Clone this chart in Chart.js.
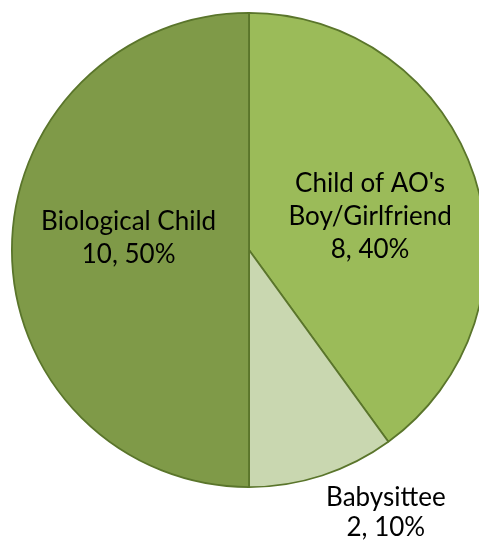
<!DOCTYPE html>
<html>
<head>
<meta charset="utf-8">
<script src="https://cdn.jsdelivr.net/npm/chart.js@4.4.0/dist/chart.umd.min.js"></script>
<style>
  html, body { margin: 0; padding: 0; background: #fff; overflow: hidden; }
  #wrap { position: relative; width: 498px; height: 542px; }
</style>
</head>
<body>
<div id="wrap"><canvas id="chart"></canvas></div>
<script>
// data
const categories = ["Child of AO's Boy/Girlfriend", 'Babysittee', 'Biological Child'];
const counts = [8, 2, 10];
const percents = [40, 10, 50];
const labelLines = [["Child of AO's", 'Boy/Girlfriend'], ['Babysittee'], ['Biological Child']];
const sliceColors = ['#9BBB59', '#C9D7B0', '#7F9A48'];

// label placement: angle offset (deg) from slice middle, distance as fraction of radius, line height
const labelPos = [
  { da: 2.5, dist: 0.53, lh: 33 },
  { da: -9.5, dist: 1.25, lh: 30 },
  { da: 5.5, dist: 0.51, lh: 33 }
];

const sliceLabels = {
  id: 'sliceLabels',
  afterDatasetsDraw(chart) {
    const ctx = chart.ctx;
    const meta = chart.getDatasetMeta(0);
    ctx.save();
    ctx.font = '26px Lato, "Open Sans", sans-serif';
    ctx.fillStyle = '#000';
    ctx.textAlign = 'center';
    ctx.textBaseline = 'middle';
    meta.data.forEach(function (arc, i) {
      const p = arc.getProps(['x', 'y', 'startAngle', 'endAngle', 'outerRadius'], true);
      const mid = (p.startAngle + p.endAngle) / 2 + labelPos[i].da * Math.PI / 180;
      const r = p.outerRadius * labelPos[i].dist;
      const cx = p.x + Math.cos(mid) * r;
      const cy = p.y + Math.sin(mid) * r;
      const lines = labelLines[i].concat([counts[i] + ', ' + percents[i] + '%']);
      const lh = labelPos[i].lh;
      const top = cy - (lines.length - 1) * lh / 2;
      lines.forEach(function (t, j) {
        ctx.fillText(t, cx, top + j * lh);
      });
    });
    ctx.restore();
  }
};

new Chart(document.getElementById('chart'), {
  type: 'pie',
  data: {
    labels: categories,
    datasets: [{
      data: counts,
      backgroundColor: sliceColors,
      borderColor: '#5A752B',
      borderWidth: 1.8
    }]
  },
  options: {
    responsive: true,
    maintainAspectRatio: false,
    animation: false,
    layout: { padding: { left: 11, right: 11, top: 12, bottom: 54 } },
    plugins: {
      legend: { display: false },
      tooltip: { enabled: false }
    }
  },
  plugins: [sliceLabels]
});
</script>
</body>
</html>
